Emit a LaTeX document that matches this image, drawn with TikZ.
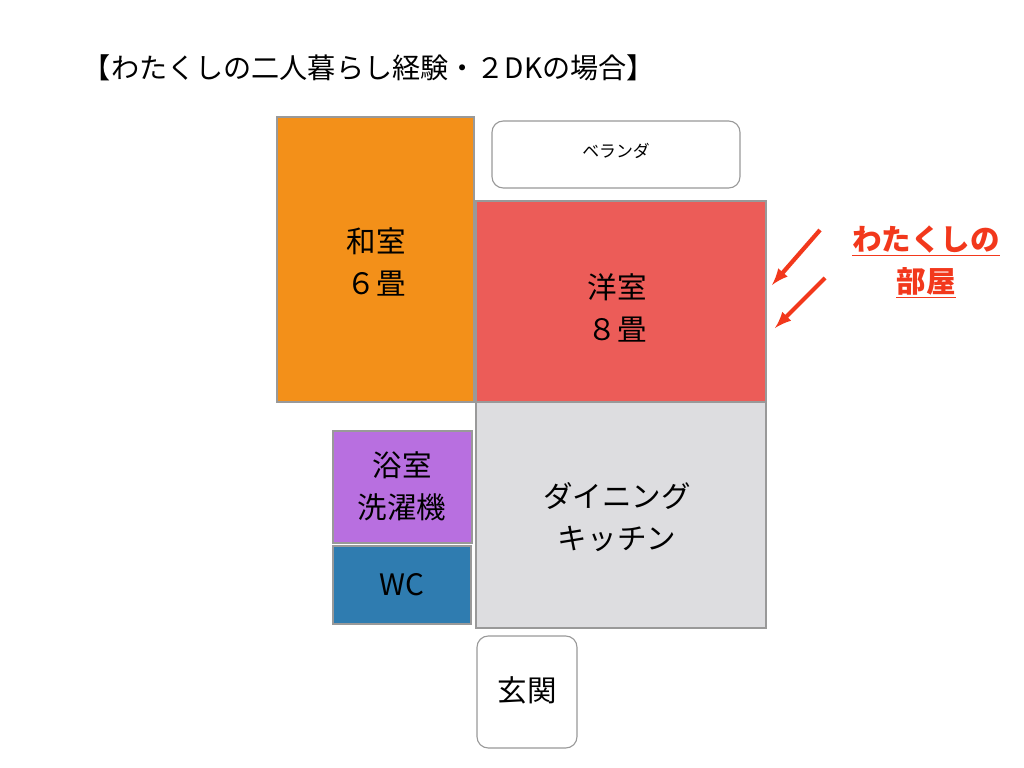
\documentclass[tikz,border=0pt]{standalone}
\usepackage{fontspec}
\setmainfont{Noto Sans CJK JP}
\usetikzlibrary{positioning}
\definecolor{washitsu}{HTML}{F39019}
\definecolor{youshitsu}{HTML}{EC5C58}
\definecolor{dk}{HTML}{DDDDE0}
\definecolor{yoku}{HTML}{B86FE0}
\definecolor{wc}{HTML}{2F7CB0}
\definecolor{note}{HTML}{F2381C}
\begin{document}
\begin{tikzpicture}[x=0.025cm,y=-0.025cm,
    room/.style={draw=gray!80,line width=0.8pt},
    label/.style={font=\fontsize{21}{30}\selectfont,align=center},
    box/.style={draw=gray!80,line width=0.8pt,rounded corners=8pt,fill=white}]
  \useasboundingbox (0,0) rectangle (1024,768);
  \node[anchor=west,font=\fontsize{20}{24}\selectfont] (title) at (78,68) {【わたくしの二人暮らし経験・２DKの場合】};
  % rooms
  \filldraw[room,fill=washitsu] (277,117) rectangle (474,402);
  \filldraw[room,fill=youshitsu] (476,201) rectangle (766,402);
  \filldraw[room,fill=dk] (476,402) rectangle (766,628);
  \filldraw[room,fill=yoku] (333,431) rectangle (472,543);
  \filldraw[room,fill=wc] (333,546) rectangle (471,624);
  \filldraw[box] (492,121) rectangle (740,188);
  \filldraw[box] (477,636) rectangle (577,748);
  \node[label] (wa) at (376,262) {和室\\６畳};
  \node[label] (you) at (617,308) {洋室\\８畳};
  \node[label] (din) at (617,517) {ダイニング\\キッチン};
  \node[label] (bath) at (402,486) {浴室\\洗濯機};
  \node[label] (toilet) at (402,585) {WC};
  \node[font=\fontsize{12}{14}\selectfont] (ver) at (616,151) {ベランダ};
  \node[label] (genkan) at (527,690) {玄関};
  % note
  \node[font=\bfseries\fontsize{21}{30}\selectfont,text=note,align=center] (mine) at (926,262)
    {\underline{わたくしの}\\\underline{部屋}};
  \coordinate (a1s) at (820,230); \coordinate (a1e) at (772,285);
  \coordinate (a2s) at (825,278); \coordinate (a2e) at (775,328);
  \draw[note,line width=3pt,-latex] (a1s) -- (a1e);
  \draw[note,line width=3pt,-latex] (a2s) -- (a2e);
\end{tikzpicture}
\end{document}
